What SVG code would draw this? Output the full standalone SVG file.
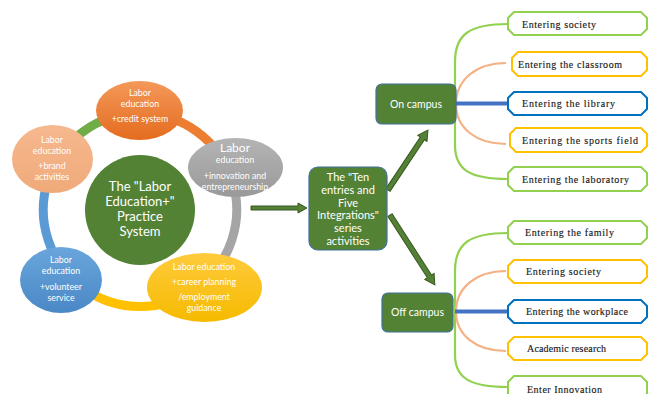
<svg xmlns="http://www.w3.org/2000/svg" width="652" height="394" viewBox="0 0 652 394">
<defs>
<linearGradient id="gOr" x1="0" y1="0" x2="0" y2="1"><stop offset="0" stop-color="#F4985A"/><stop offset="1" stop-color="#E46C1E"/></linearGradient>
<linearGradient id="gPe" x1="0" y1="0" x2="0" y2="1"><stop offset="0" stop-color="#F6B88E"/><stop offset="1" stop-color="#F0AA7A"/></linearGradient>
<linearGradient id="gGr" x1="0" y1="0" x2="0" y2="1"><stop offset="0" stop-color="#B4B4B4"/><stop offset="1" stop-color="#999999"/></linearGradient>
<linearGradient id="gYe" x1="0" y1="0" x2="0" y2="1"><stop offset="0" stop-color="#FFCB3C"/><stop offset="1" stop-color="#F5BA00"/></linearGradient>
<linearGradient id="gBl" x1="0" y1="0" x2="0" y2="1"><stop offset="0" stop-color="#6AA6DC"/><stop offset="1" stop-color="#4A88C6"/></linearGradient>
<style>
.w{fill:#fff;font-family:Lato,"Liberation Sans",sans-serif;text-anchor:middle}
.s{font-size:8.8px}
.gb{fill:#548235;stroke:#41719C;stroke-width:1.2}
.arr{fill:#548235;stroke:#385723;stroke-width:1}
.lb{fill:#fff;stroke-width:2}
.lg{stroke:#92D050}.ly{stroke:#FFC000}.lbl{stroke:#0070C0}
.t{font-family:"Liberation Serif","DejaVu Serif",serif;font-size:10px;fill:#1a1a1a;stroke:#1a1a1a;stroke-width:0.15}
.br{fill:none;stroke-width:2.2}
</style>
</defs>

<g id="ring" fill="none" stroke-width="9">
<path d="M48,180 A97,97 0 0 1 140,113" stroke="#70AD47"/>
<path d="M140,113 A97,97 0 0 1 232,180" stroke="#ED7D31"/>
<path d="M232,180 A97,97 0 0 1 197,288" stroke="#A5A5A5"/>
<path d="M197,288 A97,97 0 0 1 83,288" stroke="#FFC000"/>
<path d="M83,288 A97,97 0 0 1 48,180" stroke="#5B9BD5"/>
</g>

<g id="center">
<circle cx="140" cy="210" r="55" fill="#548235"/>
<text class="w" font-size="13"><tspan x="140" y="191">The "Labor</tspan><tspan x="140" y="206">Education+"</tspan><tspan x="140" y="221">Practice</tspan><tspan x="140" y="236">System</tspan></text>
</g>

<g id="credit">
<ellipse cx="139.5" cy="110.5" rx="43.5" ry="29.5" fill="url(#gOr)"/>
<text class="w s"><tspan x="140" y="96">Labor</tspan><tspan x="140" y="107">education</tspan><tspan x="140" y="122">+credit system</tspan></text>
</g>

<g id="brand">
<ellipse cx="52.5" cy="159" rx="40.5" ry="34" fill="url(#gPe)"/>
<text class="w s"><tspan x="52" y="143">Labor</tspan><tspan x="52" y="154">education</tspan><tspan x="52" y="169">+brand</tspan><tspan x="52" y="180">activities</tspan></text>
</g>

<g id="innovation">
<ellipse cx="235.5" cy="167.5" rx="47.5" ry="29.5" fill="url(#gGr)"/>
<text class="w"><tspan x="235" y="152" font-size="12">Labor</tspan><tspan x="235" y="163" font-size="8.8">education</tspan><tspan x="235" y="179" font-size="8.8">+innovation and</tspan><tspan x="235" y="190" font-size="8.8">entrepreneurship</tspan></text>
</g>

<g id="career">
<ellipse cx="204.5" cy="287.5" rx="57.5" ry="34.5" fill="url(#gYe)"/>
<text class="w s"><tspan x="204" y="270">Labor education</tspan><tspan x="204" y="285">+career planning</tspan><tspan x="204" y="300">/employment</tspan><tspan x="204" y="311">guidance</tspan></text>
</g>

<g id="volunteer">
<ellipse cx="61" cy="280" rx="41" ry="33" fill="url(#gBl)"/>
<text class="w s"><tspan x="61" y="263">Labor</tspan><tspan x="61" y="274">education</tspan><tspan x="61" y="290">+volunteer</tspan><tspan x="61" y="301">service</tspan></text>
</g>

<g id="connectors">
<path class="arr" d="M251,206 L298,206 L298,203 L307,208 L298,213 L298,210 L251,210 Z"/>
<path class="arr" transform="translate(388,190) rotate(-56.3)" d="M0,-2.5 L62,-2.5 L62,-5.5 L72,0 L62,5.5 L62,2.5 L0,2.5 Z"/>
<path class="arr" transform="translate(390,215) rotate(57.3)" d="M0,-2.5 L73,-2.5 L73,-5.5 L83,0 L73,5.5 L73,2.5 L0,2.5 Z"/>
<path class="br" stroke="#92D050" d="M508,24 C470,24 455,34 455,62 L455,145 C455,170 470,179 508,179"/>
<path class="br" stroke="#F4B183" d="M506,63 C476,63 456,80 456,104 C456,128 476,144 506,144"/>
<path fill="none" stroke="#4472C4" stroke-width="4" d="M455,103.5 L508,103.5"/>
<path class="br" stroke="#92D050" d="M508,233 C470,233 455,243 455,271 L455,355 C455,378 470,387 508,387"/>
<path class="br" stroke="#F4B183" d="M506,271 C476,271 456,288 456,311.5 C456,335 476,351 506,351"/>
<path fill="none" stroke="#4472C4" stroke-width="4" d="M455,311.5 L508,311.5"/>
</g>

<g id="tenentries">
<rect class="gb" x="309" y="167" width="78" height="83" rx="9"/>
<text class="w" font-size="11"><tspan x="348" y="181">The "Ten</tspan><tspan x="348" y="194">entries and</tspan><tspan x="348" y="207">Five</tspan><tspan x="348" y="219">Integrations"</tspan><tspan x="348" y="232">series</tspan><tspan x="348" y="245">activities</tspan></text>
</g>

<g id="oncampus">
<rect class="gb" x="376" y="84" width="80" height="40" rx="6"/>
<text class="w" font-size="10.5" x="416" y="108">On campus</text>
</g>

<g id="offcampus">
<rect class="gb" x="382" y="293" width="71" height="39" rx="6"/>
<text class="w" font-size="10.5" x="417.5" y="316">Off campus</text>
</g>

<g id="on1"><path class="lb lg" d="M514,12 L641,12 L647,18 L647,29 L641,35 L514,35 L508,29 L508,18 Z"/><text class="t" x="522" y="27.5" textLength="74">Entering society</text></g>
<g id="on2"><path class="lb ly" d="M518,52 L641,52 L647,58 L647,70 L641,76 L518,76 L512,70 L512,58 Z"/><text class="t" x="518" y="67.5" textLength="104">Entering the classroom</text></g>
<g id="on3"><path class="lb lbl" d="M514,92 L641,92 L647,98 L647,109 L641,115 L514,115 L508,109 L508,98 Z"/><text class="t" x="522" y="107" textLength="93">Entering the library</text></g>
<g id="on4"><path class="lb ly" d="M516,128 L641,128 L647,134 L647,146 L641,152 L516,152 L510,146 L510,134 Z"/><text class="t" x="522" y="143.5" textLength="116">Entering the sports field</text></g>
<g id="on5"><path class="lb lg" d="M514,167 L641,167 L647,173 L647,185 L641,191 L514,191 L508,185 L508,173 Z"/><text class="t" x="522" y="182.5" textLength="107">Entering the laboratory</text></g>

<g id="off1"><path class="lb lg" d="M514,221 L641,221 L647,227 L647,238 L641,244 L514,244 L508,238 L508,227 Z"/><text class="t" x="525" y="236" textLength="89">Entering the family</text></g>
<g id="off2"><path class="lb ly" d="M514,260 L641,260 L647,266 L647,277 L641,283 L514,283 L508,277 L508,266 Z"/><text class="t" x="526" y="275" textLength="75">Entering society</text></g>
<g id="off3"><path class="lb lbl" d="M514,300 L641,300 L647,306 L647,317 L641,323 L514,323 L508,317 L508,306 Z"/><text class="t" x="526" y="315" textLength="102">Entering the workplace</text></g>
<g id="off4"><path class="lb ly" d="M514,337 L641,337 L647,343 L647,354 L641,360 L514,360 L508,354 L508,343 Z"/><text class="t" x="527" y="352" textLength="79">Academic research</text></g>
<g id="off5"><path class="lb lg" d="M514,376 L641,376 L647,382 L647,394 L641,400 L514,400 L508,394 L508,382 Z"/><text class="t" x="527" y="393" textLength="75">Enter Innovation</text></g>
</svg>
